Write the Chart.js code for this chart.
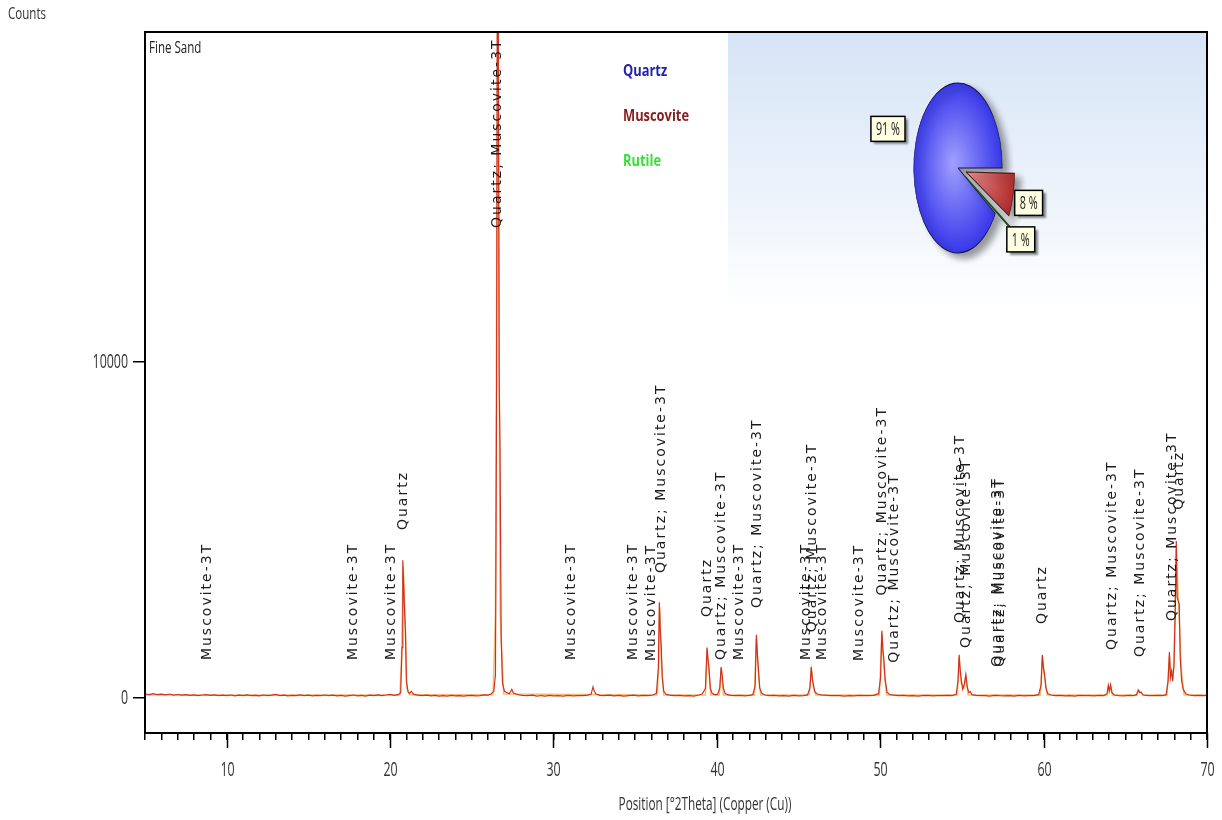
<!DOCTYPE html>
<html lang="en">
<head>
<meta charset="UTF-8">
<title>Fine Sand - XRD</title>
<script src="https://cdn.jsdelivr.net/npm/chart.js"></script>
<style>
  body { margin: 0; background: #fff; }
  #wrap { position: relative; width: 1222px; height: 820px; }
  #scan { position: absolute; left: 0; top: 0; }
  #phases { position: absolute; left: 848px; top: 58px; }
</style>
</head>
<body>
<div id="wrap">
  <canvas id="scan" width="1222" height="820"></canvas>
  <canvas id="phases" width="220" height="220"></canvas>
</div>
<script>
// measured scan, [2theta, counts]
const scan = [
  [5.0,120],[5.25,105],[5.5,130],[5.75,100],[6.0,115],[6.25,95],[6.5,120],[6.75,90],[7.0,105],[7.25,85],
  [7.5,100],[7.75,80],[8.0,95],[8.25,75],[8.5,90],[8.75,100],[9.0,80],[9.25,95],[9.5,70],[9.75,85],
  [10.0,75],[10.25,90],[10.5,65],[10.75,85],[11.0,70],[11.25,95],[11.5,75],[11.75,80],[12.0,65],[12.25,90],
  [12.5,70],[12.75,85],[13.0,110],[13.25,75],[13.5,85],[13.75,65],[14.0,80],[14.25,70],[14.5,95],[14.75,75],
  [15.0,85],[15.25,65],[15.5,80],[15.75,70],[16.0,90],[16.25,70],[16.5,85],[16.75,65],[17.0,80],[17.25,60],
  [17.5,75],[17.75,90],[18.0,65],[18.25,80],[18.5,60],[18.75,85],[19.0,70],[19.25,95],[19.5,75],[19.75,90],
  [20.0,110],[20.25,80],[20.5,100],[20.65,160],[20.73,1500],[20.78,4100],[20.84,3300],[20.88,2700],[20.94,2000],[21.0,500],
  [21.1,180],[21.2,140],[21.3,200],[21.45,110],[21.7,85],[22.0,70],[22.25,85],[22.5,65],[22.75,80],[23.0,60],
  [23.25,75],[23.5,60],[23.75,80],[24.0,65],[24.25,75],[24.5,60],[24.75,70],[25.0,80],[25.25,65],[25.5,75],
  [25.75,95],[26.0,90],[26.2,130],[26.35,200],[26.45,700],[26.52,9200],[26.56,21000],[26.62,21000],[26.68,9300],[26.73,7400],
  [26.8,1800],[26.88,450],[27.0,200],[27.15,160],[27.3,130],[27.45,260],[27.55,150],[27.7,120],[27.9,95],[28.1,80],
  [28.4,70],[28.7,85],[29.0,55],[29.25,75],[29.5,60],[29.75,80],[30.0,65],[30.3,75],[30.6,60],[30.9,80],
  [31.2,65],[31.5,75],[31.8,70],[32.1,85],[32.3,110],[32.42,330],[32.5,200],[32.6,120],[32.85,80],[33.1,70],
  [33.4,85],[33.7,65],[34.0,80],[34.3,60],[34.6,75],[34.9,85],[35.2,65],[35.5,80],[35.8,75],[36.1,90],
  [36.3,140],[36.42,900],[36.48,2850],[36.54,2000],[36.6,1500],[36.66,600],[36.75,200],[36.9,110],[37.1,85],[37.4,70],
  [37.7,80],[38.0,65],[38.3,75],[38.6,60],[38.9,90],[39.1,120],[39.3,280],[39.4,1500],[39.46,1150],[39.52,850],
  [39.6,300],[39.7,150],[39.85,100],[40.05,110],[40.18,300],[40.26,920],[40.32,700],[40.4,300],[40.5,140],[40.65,100],
  [40.85,80],[41.1,70],[41.4,80],[41.7,65],[42.0,80],[42.2,100],[42.34,350],[42.42,1880],[42.48,1300],[42.54,900],
  [42.62,300],[42.75,140],[42.95,90],[43.2,75],[43.5,80],[43.8,65],[44.1,75],[44.4,60],[44.7,80],[45.0,65],
  [45.3,75],[45.55,95],[45.7,300],[45.78,920],[45.85,550],[45.92,380],[46.0,180],[46.15,120],[46.35,95],[46.6,90],
  [46.9,75],[47.2,70],[47.5,75],[47.8,60],[48.1,75],[48.4,65],[48.7,80],[49.0,70],[49.3,75],[49.6,80],
  [49.9,130],[50.02,600],[50.1,2000],[50.16,1450],[50.22,1150],[50.3,550],[50.42,170],[50.6,100],[50.85,85],[51.1,75],
  [51.4,80],[51.7,65],[52.0,75],[52.3,60],[52.6,70],[52.9,80],[53.2,65],[53.5,75],[53.8,70],[54.1,80],
  [54.4,75],[54.65,110],[54.76,500],[54.83,1290],[54.9,800],[54.97,500],[55.05,260],[55.15,420],[55.24,700],[55.32,350],
  [55.42,160],[55.52,190],[55.62,100],[55.85,80],[56.1,70],[56.4,75],[56.7,60],[57.0,80],[57.3,70],[57.6,65],
  [57.9,75],[58.2,60],[58.5,80],[58.8,65],[59.1,75],[59.4,70],[59.7,100],[59.85,400],[59.92,1280],[59.99,900],
  [60.06,700],[60.14,300],[60.26,130],[60.45,90],[60.7,75],[61.0,80],[61.3,65],[61.6,75],[61.9,60],[62.2,80],
  [62.5,70],[62.8,75],[63.1,65],[63.4,80],[63.7,75],[63.88,130],[63.96,380],[64.03,210],[64.1,390],[64.18,160],
  [64.32,90],[64.6,75],[64.9,65],[65.2,80],[65.5,70],[65.68,100],[65.8,240],[65.88,160],[65.96,180],[66.1,90],
  [66.4,75],[66.7,70],[67.0,80],[67.3,75],[67.5,100],[67.62,500],[67.7,1370],[67.76,600],[67.83,800],[67.9,500],
  [67.98,1000],[68.05,2500],[68.12,4670],[68.17,3000],[68.23,2900],[68.3,2800],[68.36,1200],[68.45,500],[68.55,250],[68.7,130],
  [68.9,90],[69.2,75],[69.5,80],[69.8,70],[70.0,75]
];

// calculated profile under the scan
const profile = [
  [5,90],[20.6,90],[20.7,1200],[20.8,3900],[20.9,2600],[21.03,300],[21.2,100],[26.3,100],[26.45,2500],[26.59,21000],
  [26.74,2500],[26.95,120],[36.35,90],[36.44,900],[36.5,2700],[36.6,1100],[36.75,90],[39.3,90],[39.4,1300],[39.5,1000],
  [39.62,90],[40.15,90],[40.27,850],[40.4,90],[42.3,90],[42.42,1750],[42.55,700],[42.68,90],[45.65,90],[45.78,850],
  [45.92,300],[46.05,90],[49.95,90],[50.1,1900],[50.22,1000],[50.38,90],[54.72,90],[54.83,1200],[54.95,450],[55.12,300],
  [55.24,620],[55.38,90],[59.8,90],[59.92,1200],[60.06,600],[60.22,90],[63.9,90],[64.0,340],[64.1,360],[64.22,90],
  [65.72,90],[65.8,220],[65.95,160],[66.05,90],[67.55,90],[67.7,1250],[67.8,700],[67.98,900],[68.12,4400],[68.28,2600],
  [68.42,900],[68.6,90],[70,90]
];

// identified reflections: position, phase text, counts where the tag starts
const peakPos = [8.8, 17.75, 20.07, 20.82, 26.57, 31.1, 34.9, 36.0, 36.6, 39.42,
  40.3, 41.4, 42.45, 45.45, 45.87, 46.45, 48.75, 50.15, 50.85, 54.9,
  55.25, 57.17, 57.33, 59.95, 64.2, 65.9, 67.85, 68.3];
const peakText = ['Muscovite-3T', 'Muscovite-3T', 'Muscovite-3T', 'Quartz', 'Quartz; Muscovite-3T',
  'Muscovite-3T', 'Muscovite-3T', 'Muscovite-3T', 'Quartz; Muscovite-3T', 'Quartz',
  'Quartz; Muscovite-3T', 'Muscovite-3T', 'Quartz; Muscovite-3T', 'Muscovite-3T', 'Quartz; Muscovite-3T',
  'Muscovite-3T', 'Muscovite-3T', 'Quartz; Muscovite-3T', 'Quartz; Muscovite-3T', 'Quartz; Muscovite-3T',
  'Quartz; Muscovite-3T', 'Quartz; Muscovite-3T', 'Quartz; Muscovite-3T', 'Quartz', 'Quartz; Muscovite-3T',
  'Quartz; Muscovite-3T', 'Quartz; Muscovite-3T', 'Quartz'];
const peakBase = [1130, 1130, 1130, 5000, 13990, 1130, 1130, 1100, 3720, 2410,
  1130, 1130, 2680, 1130, 1960, 1130, 1100, 3050, 1050, 2230,
  1490, 930, 930, 2200, 1430, 1220, 2290, 5600];

const yTicks = [0, 10000];
const xTitle = 'Position [°2Theta] (Copper (Cu))';

// semi-quantitative phase shares
const phaseNames = ['Quartz', 'Muscovite', 'Rutile'];
const phaseShare = [91, 8, 1];
const phaseInk = ['#2222b0', '#8a1d1d', '#36e036'];
const phaseFill = [['#a0a0ff', '#2c2ce8'], ['#f09a9a', '#b02a2a'], ['#9af09a', '#2a9a2a']];
const phaseEdge = ['#15154a', '#4a1515', '#154a15'];

const FACE = '"Open Sans", sans-serif';

// horizontally narrowed text, like the instrument software prints it
function narrowText(ctx, text, x, y, font, sx, align, color) {
  ctx.save();
  ctx.font = font;
  ctx.fillStyle = color;
  ctx.textAlign = align;
  ctx.textBaseline = 'middle';
  ctx.translate(x, y);
  ctx.scale(sx, 1);
  ctx.fillText(text, 0, 0);
  ctx.restore();
}

const frame = {
  id: 'frame',
  beforeDatasetsDraw(chart) {
    const {ctx, chartArea: a} = chart;
    // shaded panel behind the phase pie
    const g = ctx.createLinearGradient(0, a.top, 0, 310);
    g.addColorStop(0, '#d6e4f6');
    g.addColorStop(0.6, '#edf3fb');
    g.addColorStop(1, '#ffffff');
    ctx.fillStyle = g;
    ctx.fillRect(728, a.top, a.right - 728, 310 - a.top);
  },
  afterDatasetsDraw(chart) {
    const {ctx, scales: {x, y}} = chart;
    ctx.save();
    ctx.font = '14px "DejaVu Sans"';
    ctx.letterSpacing = '2px';
    ctx.fillStyle = '#1c1c1c';
    ctx.textAlign = 'left';
    ctx.textBaseline = 'middle';
    peakPos.forEach((p, i) => {
      ctx.save();
      ctx.translate(x.getPixelForValue(p), y.getPixelForValue(peakBase[i]));
      ctx.rotate(-Math.PI / 2);
      ctx.fillText(peakText[i], 0, 0);
      ctx.restore();
    });
    ctx.restore();
  },
  afterDraw(chart) {
    const {ctx, chartArea: a, scales: {x, y}} = chart;
    ctx.save();
    ctx.strokeStyle = '#000';
    ctx.lineWidth = 2;
    ctx.strokeRect(a.left, a.top, a.right - a.left, a.bottom - a.top);
    // long marks and numbers at every tenth degree
    ctx.lineWidth = 1.5;
    x.ticks.forEach(t => {
      if (t.value % 10 !== 0) return;
      const px = Math.round(x.getPixelForValue(t.value)) + 0.5;
      ctx.beginPath();
      ctx.moveTo(px, a.bottom);
      ctx.lineTo(px, a.bottom + 15);
      ctx.stroke();
      narrowText(ctx, String(t.value), px, 770, '20px ' + FACE, 0.62, 'center', '#333');
    });
    y.ticks.forEach(t => {
      narrowText(ctx, String(t.value), 128, y.getPixelForValue(t.value), '20px ' + FACE, 0.62, 'right', '#333');
    });
    narrowText(ctx, xTitle, 705, 805, '19px ' + FACE, 0.62, 'center', '#333');
    narrowText(ctx, 'Counts', 8, 14, '17px ' + FACE, 0.68, 'left', '#333');
    narrowText(ctx, 'Fine Sand', 149, 48, '17px ' + FACE, 0.68, 'left', '#222');
    phaseNames.forEach((n, i) => {
      narrowText(ctx, n, 623, 71 + i * 45, 'bold 16.5px ' + FACE, 0.78, 'left', phaseInk[i]);
    });
    ctx.restore();
  }
};

new Chart(document.getElementById('scan'), {
  type: 'line',
  data: {
    datasets: [
      {
        data: scan.map(([x, y]) => ({x, y})),
        borderColor: '#d2301c',
        borderWidth: 1.2,
        pointRadius: 0,
        tension: 0
      },
      {
        data: profile.map(([x, y]) => ({x, y})),
        borderColor: '#f2bd74',
        borderWidth: 1.5,
        pointRadius: 0,
        tension: 0
      }
    ]
  },
  options: {
    responsive: false,
    animation: false,
    events: [],
    layout: { padding: { top: 32, right: 15, left: 0, bottom: 0 } },
    plugins: { legend: { display: false }, tooltip: { enabled: false } },
    scales: {
      x: {
        type: 'linear',
        min: 5,
        max: 70,
        afterFit: s => { s.height = 87; s.paddingLeft = 0; s.paddingRight = 0; },
        border: { display: false },
        grid: { drawOnChartArea: false, tickLength: 7, color: '#000', lineWidth: 1.5 },
        ticks: { stepSize: 1, autoSkip: false, maxRotation: 0, display: false }
      },
      y: {
        min: -1040,
        max: 19820,
        afterFit: s => { s.width = 145; s.paddingTop = 0; s.paddingBottom = 0; },
        afterBuildTicks: s => { s.ticks = yTicks.map(v => ({value: v})); },
        border: { display: false },
        grid: { drawOnChartArea: false, tickLength: 12, color: '#000', lineWidth: 1.5 },
        ticks: { display: false }
      }
    }
  },
  plugins: [frame]
});

// pie squeezed into an ellipse, with drop shadow and value tags
const squeeze = 0.52;
const tilt = {
  id: 'tilt',
  beforeDatasetsDraw(chart) {
    const {ctx, chartArea: a} = chart;
    const cx = (a.left + a.right) / 2, cy = (a.top + a.bottom) / 2;
    ctx.save();
    ctx.shadowColor = 'rgba(40,40,40,0.45)';
    ctx.shadowBlur = 6;
    ctx.shadowOffsetX = 6;
    ctx.shadowOffsetY = 5;
    ctx.translate(cx, cy);
    ctx.scale(squeeze, 1);
    ctx.translate(-cx, -cy);
  },
  afterDatasetsDraw(chart) {
    const {ctx, chartArea: a} = chart;
    ctx.restore();
    const cx = (a.left + a.right) / 2, cy = (a.top + a.bottom) / 2;
    ctx.save();
    chart.getDatasetMeta(0).data.forEach((arc, i) => {
      const mid = (arc.startAngle + arc.endAngle) / 2;
      const r = arc.outerRadius * 1.65;
      const px = cx + Math.cos(mid) * r * squeeze;
      const py = cy + Math.sin(mid) * r;
      const label = phaseShare[i] + ' %';
      ctx.font = '18px ' + FACE;
      const w = ctx.measureText(label).width * 0.6 + 10, h = 25;
      ctx.shadowColor = 'rgba(0,0,0,0.45)';
      ctx.shadowBlur = 2;
      ctx.shadowOffsetX = 3;
      ctx.shadowOffsetY = 3;
      ctx.fillStyle = '#ffffe2';
      ctx.fillRect(px - w / 2, py - h / 2, w, h);
      ctx.shadowColor = 'transparent';
      ctx.strokeStyle = '#000';
      ctx.lineWidth = 1.5;
      ctx.strokeRect(px - w / 2, py - h / 2, w, h);
      narrowText(ctx, label, px, py + 1, '18px ' + FACE, 0.6, 'center', '#222');
    });
    ctx.restore();
  }
};

new Chart(document.getElementById('phases'), {
  type: 'pie',
  data: {
    labels: phaseNames,
    datasets: [{
      data: phaseShare,
      backgroundColor: c => {
        const a = c.chart.chartArea;
        const [inner, outer] = phaseFill[c.dataIndex];
        if (!a) return outer;
        const cx = (a.left + a.right) / 2, cy = (a.top + a.bottom) / 2;
        const g = c.chart.ctx.createRadialGradient(cx - 10, cy - 5, 0, cx, cy, 95);
        g.addColorStop(0, inner);
        g.addColorStop(1, outer);
        return g;
      },
      borderColor: phaseEdge,
      borderWidth: 1.2,
      offset: [0, 64, 64],
      clip: false
    }]
  },
  options: {
    responsive: false,
    animation: false,
    events: [],
    radius: 85,
    rotation: 122.4,
    plugins: { legend: { display: false }, tooltip: { enabled: false } }
  },
  plugins: [tilt]
});
</script>
</body>
</html>
